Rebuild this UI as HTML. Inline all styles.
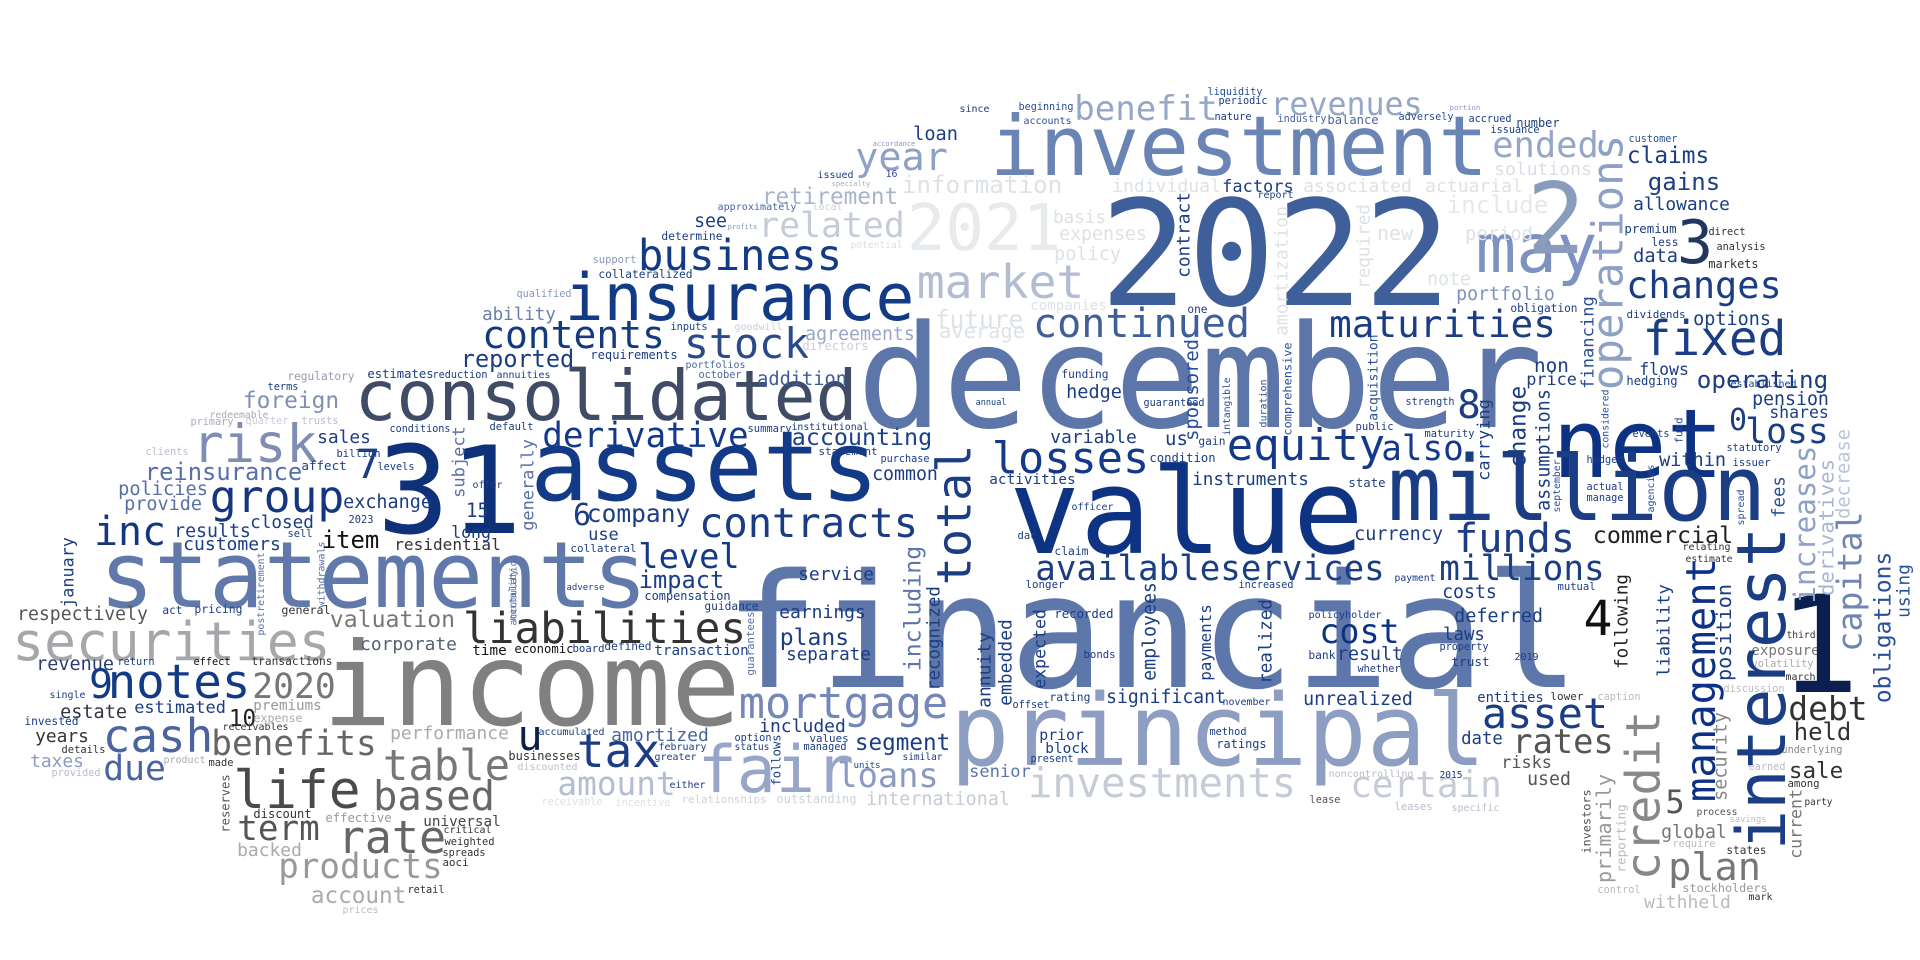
<!DOCTYPE html>
<html><head><meta charset="utf-8"><title>Word cloud</title>
<style>
html,body{margin:0;padding:0;background:#fff;}
svg{display:block;}
text{font-family:"DejaVu Sans Mono","Liberation Mono",monospace;}
</style></head>
<body>
<svg id="cloud" xmlns="http://www.w3.org/2000/svg" width="1920" height="960" viewBox="0 0 1920 960">
<rect x="0" y="0" width="1920" height="960" fill="#ffffff"/>
</svg>
<script>
// horizontal words: [text, left, right, baseline, color]
const hWords = [
["financial",732,1572,687,"#5e77aa"],
["2022",1107,1444,305,"#3f5f9a"],
["december",864,1536,427,"#5d76a9"],
["value",1015,1358,553,"#0f3383"],
["principal",955,1481,765,"#8e9dc2"],
["income",328,735,725,"#808080"],
["31",383,516,533,"#0f3179"],
["assets",535,874,500,"#123a86"],
["statements",104,643,607,"#6079aa"],
["investment",994,1484,175,"#6a85b5"],
["consolidated",358,854,420,"#404b66"],
["insurance",568,911,320,"#123a85"],
["net",1557,1719,477,"#0e3283"],
["million",1392,1762,520,"#1b3d84"],
["fair",701,851,792,"#97a6c8"],
["may",1479,1594,272,"#7d92c0"],
["2021",910,1058,250,"#e8ebed"],
["risk",195,315,462,"#7d8db3"],
["securities",15,328,660,"#a5a7ab"],
["life",236,358,808,"#4a4a4a"],
["rate",340,444,853,"#666666"],
["table",385,508,780,"#777777"],
["based",375,493,810,"#666666"],
["term",239,318,840,"#555555"],
["products",280,441,878,"#999999"],
["account",312,405,903,"#aaaaaa"],
["backed",238,301,856,"#aaaaaa"],
["liabilities",465,744,643,"#333333"],
["notes",110,248,698,"#123a86"],
["2020",254,334,698,"#777777"],
["cash",105,211,752,"#4a64a0"],
["benefits",213,375,755,"#666666"],
["due",105,164,780,"#4a64a0"],
["mortgage",741,946,718,"#7487b8"],
["amount",559,674,795,"#b3bdd2"],
["tax",579,658,767,"#1a3c85"],
["loan",914,957,140,"#1b3d84"],
["year",857,946,170,"#8ea0c5"],
["retirement",763,897,204,"#a8b4cc"],
["related",760,903,237,"#c5ccd8"],
["business",640,840,270,"#133b85"],
["contents",484,663,348,"#13397f"],
["stock",686,807,358,"#2a4a8a"],
["reported",462,573,367,"#1b3d84"],
["foreign",244,338,408,"#8090b5"],
["derivative",544,747,447,"#14398a"],
["accounting",793,931,445,"#1a418a"],
["group",212,342,512,"#13367e"],
["inc",96,164,545,"#13367e"],
["reinsurance",146,301,480,"#5870a8"],
["contracts",701,916,537,"#1a3c85"],
["level",640,738,568,"#123a86"],
["impact",640,723,588,"#1b3d84"],
["company",588,689,522,"#1b3d84"],
["respectively",18,147,620,"#555555"],
["valuation",331,454,627,"#777777"],
["corporate",361,456,650,"#556070"],
["revenue",37,113,670,"#2a3f6e"],
["estate",61,126,718,"#333344"],
["estimated",135,225,713,"#1b3d84"],
["plans",781,848,645,"#1b3d84"],
["separate",787,870,660,"#1b3d84"],
["service",799,873,580,"#1b3d84"],
["segment",856,949,750,"#1b3d84"],
["loans",839,937,787,"#8a9ac0"],
["international",867,1009,805,"#c5ccd8"],
["included",760,845,732,"#1b3d84"],
["performance",391,508,739,"#aaaaaa"],
["benefit",1076,1216,120,"#95a6c6"],
["revenues",1272,1421,115,"#95a6c6"],
["ended",1494,1597,157,"#95a6c6"],
["claims",1628,1708,163,"#1b3d84"],
["gains",1649,1719,190,"#1b3d84"],
["allowance",1634,1729,210,"#1b3d84"],
["changes",1628,1780,298,"#1b3d84"],
["continued",1035,1248,337,"#3f5f9a"],
["maturities",1331,1554,337,"#1b3d84"],
["fixed",1645,1784,355,"#1b3d84"],
["operating",1698,1827,388,"#1b3d84"],
["established",1731,1796,387,"#1b3d84"],
["pension",1753,1828,405,"#1b3d84"],
["shares",1770,1828,418,"#1b3d84"],
["loss",1747,1827,443,"#1b3d84"],
["equity",1229,1383,460,"#14398a"],
["also",1383,1462,460,"#14398a"],
["losses",994,1147,473,"#14398a"],
["hedge",1067,1121,398,"#1b3d84"],
["variable",1051,1136,443,"#1b3d84"],
["portfolio",1457,1554,300,"#7d92c0"],
["availableservices",1037,1383,580,"#1b3d84"],
["millions",1441,1603,580,"#1b3d84"],
["funds",1456,1573,552,"#1b3d84"],
["commercial",1594,1732,543,"#222222"],
["currency",1355,1442,540,"#1b3d84"],
["cost",1321,1398,643,"#0e3283"],
["significant",1107,1225,703,"#1b3d84"],
["unrealized",1304,1412,705,"#1b3d84"],
["asset",1484,1606,728,"#1b3d84"],
["rates",1514,1612,753,"#555555"],
["investments",1030,1294,797,"#c5ccd8"],
["certain",1352,1500,797,"#c5ccd8"],
["senior",970,1030,777,"#5d76a9"],
["debt",1790,1866,720,"#333333"],
["plan",1670,1759,880,"#777777"],
["withheld",1645,1730,908,"#bbbbbb"],
["sale",1790,1842,778,"#333333"],
["held",1795,1850,740,"#333333"],
["global",1662,1726,838,"#777777"],
["date",1462,1502,744,"#1b3d84"],
["accordance",873,915,146,"#8797bd"],
["issued",818,853,178,"#1b3d84"],
["16",886,897,177,"#3344aa"],
["specialty",832,870,186,"#aaaabb"],
["approximately",718,796,210,"#4a64a0"],
["local",813,842,210,"#ccccdd"],
["see",695,726,227,"#1b3d84"],
["profits",728,757,229,"#8797bd"],
["determine",662,722,240,"#1b3d84"],
["potential",851,902,248,"#dddde8"],
["support",593,636,263,"#8797bd"],
["collateralized",599,692,278,"#1b3d84"],
["qualified",517,571,297,"#8797bd"],
["ability",483,555,320,"#6a7fb0"],
["requirements",591,677,359,"#1b3d84"],
["inputs",671,707,330,"#1b3d84"],
["goodwill",735,782,330,"#ccccdd"],
["agreements",806,914,340,"#97a6c8"],
["directors",803,868,350,"#ccccdd"],
["addition",758,846,385,"#3a5a9a"],
["estimates",368,433,378,"#1b3d84"],
["reduction",433,487,378,"#1b3d84"],
["annuities",497,550,378,"#1b3d84"],
["portfolios",686,745,368,"#4a64a0"],
["october",699,741,378,"#4a64a0"],
["regulatory",288,354,380,"#9999aa"],
["terms",268,298,390,"#1b3d84"],
["redeemable",210,268,418,"#aaaabb"],
["primary",191,233,425,"#aaaabb"],
["quarter",246,288,424,"#ccccdd"],
["trusts",302,338,424,"#bbbbcc"],
["conditions",390,450,432,"#1b3d84"],
["default",490,533,430,"#1b3d84"],
["sales",318,370,443,"#1b3d84"],
["summary",748,791,432,"#1b3d84"],
["institutional",792,868,430,"#1b3d84"],
["clients",146,188,455,"#bbbbcc"],
["billion",337,380,457,"#1b3d84"],
["affect",302,346,470,"#1b3d84"],
["levels",378,414,470,"#1b3d84"],
["statement",819,877,455,"#1b3d84"],
["purchase",881,929,462,"#1b3d84"],
["common",873,937,480,"#1b3d84"],
["liquidity",1208,1262,95,"#2a4f9a"],
["periodic",1219,1267,104,"#1b3d84"],
["beginning",1019,1073,110,"#2a4f9a"],
["since",960,989,112,"#1b3d84"],
["accounts",1024,1071,124,"#2a4f9a"],
["nature",1215,1251,120,"#1b3d84"],
["industry",1278,1326,122,"#4a64a0"],
["balance",1328,1378,124,"#4a64a0"],
["adversely",1399,1453,120,"#2a4f9a"],
["portion",1450,1480,110,"#8797bd"],
["accrued",1469,1511,122,"#1b3d84"],
["number",1517,1559,127,"#1b3d84"],
["issuance",1491,1539,133,"#1b3d84"],
["customer",1629,1677,142,"#2a4f9a"],
["solutions",1495,1591,175,"#dddde6"],
["factors",1223,1293,192,"#1b3d84"],
["associated",1304,1411,192,"#dde2e6"],
["actuarial",1426,1522,192,"#dde2e6"],
["individual",1113,1220,192,"#dde2e6"],
["information",903,1061,193,"#dde2e6"],
["report",1258,1293,198,"#1b3d84"],
["include",1448,1547,213,"#e6e8ea"],
["basis",1054,1105,223,"#dde2e6"],
["expenses",1060,1146,240,"#dde2e6"],
["policy",1055,1120,260,"#dde2e6"],
["period",1466,1532,240,"#dde2e6"],
["new",1378,1412,240,"#dde2e6"],
["note",1428,1470,285,"#dde2e6"],
["market",919,1082,298,"#b3bdd2"],
["companies",1031,1106,310,"#dde2e6"],
["future",936,1022,328,"#dde2e6"],
["average",940,1024,338,"#dde2e6"],
["data",1634,1677,262,"#1b3d84"],
["less",1652,1678,246,"#1b3d84"],
["premium",1625,1676,233,"#1b3d84"],
["direct",1709,1745,235,"#333333"],
["analysis",1717,1765,250,"#333333"],
["markets",1709,1758,268,"#333333"],
["dividends",1627,1685,318,"#1b3d84"],
["options",1694,1770,325,"#1b3d84"],
["obligation",1511,1577,312,"#1b3d84"],
["one",1188,1207,313,"#1b3d84"],
["funding",1062,1108,378,"#1b3d84"],
["guaranteed",1144,1204,406,"#1b3d84"],
["annual",976,1006,405,"#1b3d84"],
["strength",1406,1454,405,"#1b3d84"],
["public",1356,1393,430,"#1b3d84"],
["flows",1640,1688,375,"#1b3d84"],
["hedging",1627,1677,385,"#1b3d84"],
["non",1535,1568,372,"#1b3d84"],
["price",1527,1576,385,"#1b3d84"],
["within",1660,1725,466,"#1b3d84"],
["statutory",1727,1781,451,"#1b3d84"],
["issuer",1733,1770,466,"#1b3d84"],
["us",1166,1187,445,"#1b3d84"],
["gain",1199,1225,445,"#1b3d84"],
["condition",1150,1215,462,"#1b3d84"],
["maturity",1425,1474,437,"#1b3d84"],
["events",1633,1669,437,"#1b3d84"],
["hedged",1587,1623,463,"#1b3d84"],
["actual",1587,1623,490,"#1b3d84"],
["manage",1587,1623,501,"#1b3d84"],
["policies",119,207,495,"#5870a8"],
["provide",125,201,510,"#5870a8"],
["exchange",344,431,508,"#1b3d84"],
["offer",473,502,488,"#1b3d84"],
["closed",251,313,528,"#1b3d84"],
["results",175,250,537,"#1b3d84"],
["customers",184,280,550,"#1b3d84"],
["item",323,378,548,"#111111"],
["residential",395,500,550,"#333333"],
["15",467,488,517,"#1b3d84"],
["long",452,490,538,"#1b3d84"],
["use",589,618,540,"#1b3d84"],
["collateral",571,636,552,"#1b3d84"],
["sell",288,312,537,"#1b3d84"],
["2023",349,373,523,"#1b3d84"],
["adverse",567,604,590,"#1b3d84"],
["compensation",645,730,600,"#1b3d84"],
["guidance",705,758,610,"#1b3d84"],
["earnings",780,865,618,"#1b3d84"],
["pricing",195,242,613,"#1b3d84"],
["act",163,182,614,"#1b3d84"],
["general",282,330,614,"#333333"],
["transaction",655,748,655,"#1b3d84"],
["time",473,506,655,"#111111"],
["economic",515,573,653,"#111111"],
["board",573,604,652,"#1b3d84"],
["defined",605,651,650,"#1b3d84"],
["transactions",252,332,665,"#333333"],
["effect",194,230,665,"#111111"],
["return",118,154,665,"#1b3d84"],
["premiums",254,321,710,"#999999"],
["10",230,255,726,"#222222"],
["expense",254,302,722,"#aaaaaa"],
["receivables",223,288,730,"#333333"],
["invested",25,78,725,"#1b3d84"],
["single",50,85,698,"#1b3d84"],
["years",36,88,742,"#333333"],
["details",62,105,753,"#333333"],
["taxes",31,83,767,"#8a9ac0"],
["provided",52,100,776,"#bbbbcc"],
["product",164,205,763,"#aaaaaa"],
["made",209,233,766,"#333333"],
["discount",254,311,818,"#333333"],
["effective",326,391,822,"#999999"],
["universal",424,500,826,"#444444"],
["critical",444,491,833,"#333333"],
["weighted",445,494,845,"#333333"],
["spreads",443,485,856,"#333333"],
["aoci",443,468,866,"#333333"],
["retail",408,444,893,"#333333"],
["prices",343,378,913,"#bbbbbb"],
["accumulated",539,604,735,"#1b3d84"],
["amortized",612,708,741,"#4a64a0"],
["february",659,706,750,"#1b3d84"],
["greater",655,696,760,"#1b3d84"],
["businesses",509,580,760,"#333333"],
["discounted",518,577,770,"#bbbbcc"],
["status",735,769,750,"#1b3d84"],
["option",735,771,741,"#1b3d84"],
["values",810,848,742,"#1b3d84"],
["managed",804,846,750,"#1b3d84"],
["units",854,880,768,"#1b3d84"],
["similar",903,942,760,"#1b3d84"],
["either",670,705,788,"#1b3d84"],
["receivable",542,602,805,"#dde2e6"],
["incentive",616,670,806,"#dde2e6"],
["relationships",682,766,803,"#ccd2dd"],
["outstanding",777,856,803,"#ccd2dd"],
["activities",990,1075,484,"#1b3d84"],
["instruments",1193,1308,485,"#1b3d84"],
["state",1349,1385,487,"#1b3d84"],
["officer",1072,1113,510,"#1b3d84"],
["dac",1018,1036,539,"#1b3d84"],
["claim",1055,1088,555,"#1b3d84"],
["longer",1026,1064,588,"#1b3d84"],
["increased",1239,1293,588,"#1b3d84"],
["payment",1395,1435,581,"#1b3d84"],
["recorded",1055,1113,618,"#1b3d84"],
["bonds",1084,1115,658,"#1b3d84"],
["policyholder",1309,1381,618,"#1b3d84"],
["result",1338,1402,660,"#1b3d84"],
["bank",1309,1335,659,"#1b3d84"],
["whether",1358,1400,672,"#1b3d84"],
["laws",1444,1484,640,"#1b3d84"],
["deferred",1455,1542,622,"#1b3d84"],
["property",1440,1488,650,"#1b3d84"],
["trust",1452,1489,666,"#1b3d84"],
["costs",1443,1496,598,"#1b3d84"],
["2019",1515,1538,660,"#1b3d84"],
["mutual",1558,1595,590,"#1b3d84"],
["estimate",1686,1732,562,"#333333"],
["relating",1683,1730,550,"#333333"],
["exposure",1752,1819,655,"#777777"],
["volatility",1752,1813,667,"#aaaaaa"],
["march",1786,1815,680,"#333333"],
["third",1787,1815,638,"#333333"],
["offset",1013,1049,708,"#1b3d84"],
["rating",1050,1090,701,"#1b3d84"],
["november",1223,1270,705,"#1b3d84"],
["entities",1478,1543,702,"#1b3d84"],
["lower",1551,1583,700,"#333333"],
["caption",1598,1640,700,"#bbbbbb"],
["prior",1040,1083,740,"#1b3d84"],
["block",1046,1088,753,"#1b3d84"],
["method",1210,1246,735,"#1b3d84"],
["ratings",1217,1266,748,"#1b3d84"],
["present",1031,1073,762,"#1b3d84"],
["noncontrolling",1329,1413,777,"#bbbbcc"],
["2015",1440,1462,778,"#1b3d84"],
["lease",1310,1340,803,"#555555"],
["leases",1395,1432,810,"#bbbbcc"],
["specific",1452,1499,811,"#bbbbcc"],
["risks",1502,1551,768,"#555555"],
["used",1528,1570,785,"#555555"],
["discussion",1724,1784,692,"#bbbbbb"],
["underlying",1782,1842,753,"#888888"],
["among",1788,1819,787,"#333333"],
["party",1805,1832,805,"#333333"],
["process",1697,1737,815,"#555555"],
["savings",1730,1766,822,"#bbbbbb"],
["states",1727,1766,854,"#333333"],
["stockholders",1683,1767,892,"#999999"],
["mark",1749,1772,900,"#333333"],
["control",1598,1640,893,"#bbbbbb"],
["require",1673,1715,847,"#bbbbbb"],
["earned",1749,1785,770,"#bbbbbb"]
];
// single glyph words: [text, centerX, baseline, fontSize, color]
const sWords = [
["1",1819,692,135,"#0b1f50"],
["2",1556,253,98,"#8a9cbc"],
["3",1695,263,60,"#223660"],
["4",1598,635,48,"#111111"],
["8",1469,418,39,"#1b3d84"],
["5",1675,813,32,"#555555"],
["7",368,478,40,"#1b3d84"],
["6",582,525,30,"#1b3d84"],
["9",101,698,40,"#123a86"],
["u",530,750,42,"#0a1f4a"],
["0",1738,430,30,"#1b3d84"]
];
// vertical words: [text, left, right, bottom, top, color]
const vWords = [
["operations",1603,1631,388,137,"#8da0c5"],
["financing",1576,1597,388,297,"#2a4f9a"],
["interest",1743,1787,847,530,"#1b3d84"],
["management",1689,1723,800,560,"#0e3283"],
["credit",1631,1661,878,713,"#888888"],
["capital",1844,1868,650,513,"#6e85b5"],
["obligations",1881,1895,702,553,"#2a4f9a"],
["increases",1792,1816,602,447,"#8da0c5"],
["derivatives",1816,1834,595,460,"#a7b5d2"],
["decrease",1836,1850,518,430,"#b8c4dc"],
["fees",1772,1785,517,477,"#2a4f9a"],
["using",1900,1913,617,565,"#2a4f9a"],
["spread",1739,1746,525,490,"#2a4f9a"],
["agencies",1649,1656,512,465,"#2a4f9a"],
["september",1555,1562,512,460,"#2a4f9a"],
["fund",1675,1683,443,418,"#2a4f9a"],
["considered",1603,1609,448,390,"#2a4f9a"],
["including",900,925,670,547,"#5d76a9"],
["total",939,972,583,447,"#1b3d84"],
["contract",1174,1190,277,193,"#1b3d84"],
["amortization",1272,1288,335,207,"#dde2e6"],
["required",1358,1373,288,205,"#dde2e6"],
["change",1512,1530,467,387,"#1b3d84"],
["assumptions",1533,1553,510,390,"#1b3d84"],
["employees",1144,1159,680,583,"#1b3d84"],
["realized",1258,1272,683,600,"#1b3d84"],
["embedded",997,1012,705,620,"#1b3d84"],
["annuity",978,994,707,633,"#1b3d84"],
["expected",1033,1049,688,610,"#1b3d84"],
["payments",1202,1214,680,605,"#1b3d84"],
["recognized",928,943,690,587,"#1b3d84"],
["primarily",1594,1615,882,775,"#999999"],
["reporting",1612,1628,872,805,"#bbbbbb"],
["investors",1572,1591,853,790,"#555555"],
["security",1713,1730,800,713,"#888888"],
["position",1716,1735,680,585,"#1b3d84"],
["following",1612,1631,668,575,"#222222"],
["liability",1652,1673,676,585,"#1b3d84"],
["current",1787,1802,858,790,"#777777"],
["generally",519,537,530,440,"#5870a8"],
["subject",455,468,497,427,"#5870a8"],
["january",61,77,607,538,"#1b3d84"],
["postretirement",257,266,635,553,"#5870a8"],
["withdrawals",315,325,607,542,"#5870a8"],
["accumulation",505,517,625,555,"#5870a8"],
["mortality",507,518,620,570,"#5870a8"],
["reserves",218,230,832,775,"#555555"],
["follows",769,781,785,735,"#1b3d84"],
["guarantees",747,756,675,612,"#5870a8"],
["sponsored",1193,1202,440,340,"#2a4f9a"],
["intangible",1224,1232,435,378,"#2a4f9a"],
["comprehensive",1282,1294,435,343,"#2a4f9a"],
["acquisition",1367,1380,420,335,"#2a4f9a"],
["duration",1257,1267,427,380,"#2a4f9a"],
["carrying",1478,1493,480,400,"#1b3d84"]
];

const NS = "http://www.w3.org/2000/svg";
const svg = document.getElementById("cloud");
function slug(t){ return "word-" + t.toLowerCase().replace(/[^a-z0-9]+/g,"-"); }

hWords.forEach(function(w){
  const t = w[0], x0 = w[1], x1 = w[2], y = w[3], c = w[4];
  const n = t.length;
  const fs = (x1 - x0) / (0.6 * n - 0.1);
  const el = document.createElementNS(NS, "text");
  
  
  el.setAttribute("x", (x0 - 0.05 * fs).toFixed(1));
  el.setAttribute("y", y);
  el.setAttribute("font-size", fs.toFixed(1));
  el.setAttribute("textLength", (0.6 * n * fs).toFixed(1));
  el.setAttribute("lengthAdjust", "spacingAndGlyphs");
  el.setAttribute("fill", c);
  el.textContent = t;
  svg.appendChild(el);
});

sWords.forEach(function(w){
  const t = w[0], cx = w[1], y = w[2], fs = w[3], c = w[4];
  const el = document.createElementNS(NS, "text");
  
  
  el.setAttribute("x", cx);
  el.setAttribute("y", y);
  el.setAttribute("text-anchor", "middle");
  el.setAttribute("font-size", fs);
  el.setAttribute("fill", c);
  el.textContent = t;
  svg.appendChild(el);
});

vWords.forEach(function(w){
  const t = w[0], x0 = w[1], x1 = w[2], yb = w[3], yt = w[4], c = w[5];
  const n = t.length;
  const fs = (yb - yt) / (0.6 * n - 0.1);
  const desc = /[gjpqy]/.test(t);
  const bx = x1 - (desc ? 0.2 * fs : 0.03 * fs);
  const el = document.createElementNS(NS, "text");
  
  
  el.setAttribute("x", (-0.05 * fs).toFixed(1));
  el.setAttribute("y", 0);
  el.setAttribute("font-size", fs.toFixed(1));
  el.setAttribute("textLength", (0.6 * n * fs).toFixed(1));
  el.setAttribute("lengthAdjust", "spacingAndGlyphs");
  el.setAttribute("fill", c);
  el.setAttribute("transform", "translate(" + bx.toFixed(1) + "," + yb + ") rotate(-90)");
  el.textContent = t;
  svg.appendChild(el);
});
</script>
</body></html>
